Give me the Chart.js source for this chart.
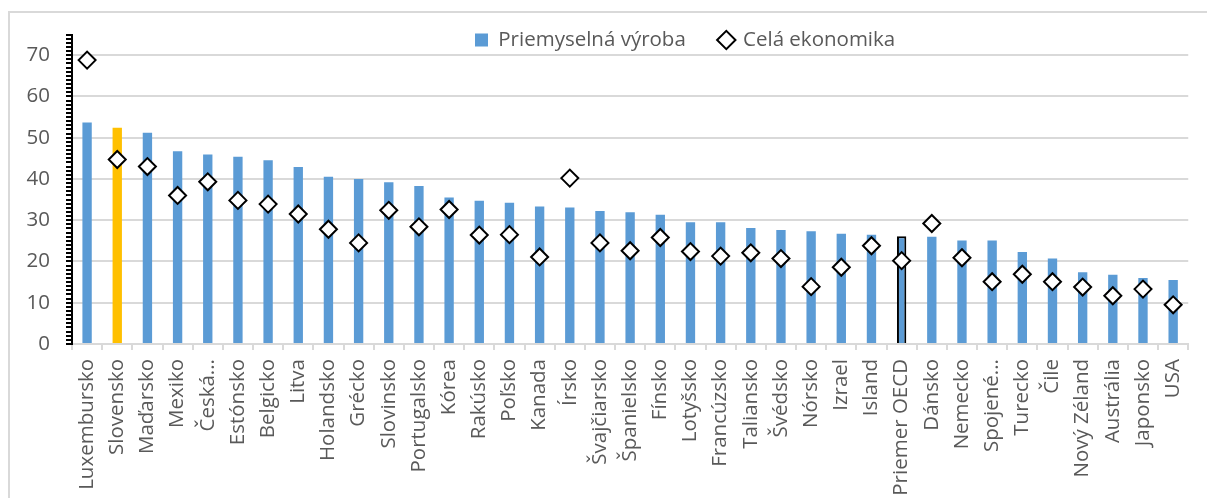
<!DOCTYPE html>
<html>
<head>
<meta charset="utf-8">
<script src="https://cdn.jsdelivr.net/npm/chart.js@4.4.1/dist/chart.umd.min.js"></script>
<style>
html,body{margin:0;padding:0;background:#fff;}
#wrap{position:relative;width:1207px;height:498px;overflow:hidden;}
#frame{position:absolute;left:8px;top:11px;right:-2px;bottom:-2px;border-top:2px solid #D9D9D9;border-left:2px solid #D9D9D9;}
#c{position:absolute;left:0;top:0;}
</style>
</head>
<body>
<div id="wrap"><div id="frame"></div><canvas id="c" width="1207" height="498"></canvas></div>
<script>
const categories = ["Luxembursko","Slovensko","Maďarsko","Mexiko","Česká...","Estónsko","Belgicko","Litva","Holandsko","Grécko","Slovinsko","Portugalsko","Kórea","Rakúsko","Poľsko","Kanada","Írsko","Švajčiarsko","Španielsko","Fínsko","Lotyšsko","Francúzsko","Taliansko","Švédsko","Nórsko","Izrael","Island","Priemer OECD","Dánsko","Nemecko","Spojené...","Turecko","Čile","Nový Zéland","Austrália","Japonsko","USA"];
const manufacturing = [53.7,52.4,51.2,46.7,45.9,45.4,44.5,42.9,40.5,40.0,39.2,38.3,35.5,34.7,34.2,33.3,33.1,32.2,31.9,31.3,29.5,29.5,28.1,27.6,27.3,26.7,26.5,26.1,26.0,25.1,25.1,22.3,20.7,17.4,16.8,16.0,15.5];
const wholeEconomy = [68.8,44.7,43.0,36.0,39.3,34.8,33.9,31.5,27.8,24.5,32.4,28.4,32.6,26.4,26.5,21.1,40.2,24.5,22.6,25.8,22.4,21.3,22.1,20.7,13.9,18.6,23.8,20.2,29.2,20.9,15.1,16.9,15.1,13.8,11.7,13.3,9.5];
const yTickLabels = [0,10,20,30,40,50,60,70];
const seriesNames = ["Priemyselná výroba","Celá ekonomika"];
const highlightCountry = "Slovensko";
const averageCategory = "Priemer OECD";

const BLUE = "#5B9BD5", GOLD = "#FFC000", GRID = "#D9D9D9", TEXT = "#595959";
const FONT = "'Open Sans', 'DejaVu Sans', sans-serif";
const FS = 20.5;

const legendPlacer = {
  id: 'legendPlacer',
  afterLayout(chart) {
    const l = chart.legend;
    if (!l || !l.lineWidths) return;
    const p = l.options.labels.padding;
    const fs = l.options.labels.font.size;
    const x0 = (l.left + p + l.right - l.lineWidths[0]) / 2;
    const dx = 475 - x0;
    const dy = 40 - (l.top + p + fs / 2);
    l.left += dx; l.right += dx; l.top += dy; l.bottom += dy;
  }
};

new Chart(document.getElementById('c'), {
  type: 'bar',
  data: {
    labels: categories,
    datasets: [
      {
        label: seriesNames[0],
        data: manufacturing,
        order: 1,
        backgroundColor: categories.map(c => c === highlightCountry ? GOLD : BLUE),
        borderColor: categories.map(c => c === averageCategory ? '#000000' : 'rgba(0,0,0,0)'),
        borderWidth: categories.map(c => c === averageCategory ? 2 : 0),
        pointStyle: 'rect',
        categoryPercentage: 1.0,
        barPercentage: 0.31
      },
      {
        label: seriesNames[1],
        type: 'line',
        data: wholeEconomy,
        order: 0,
        showLine: false,
        pointStyle: 'rectRot',
        pointRadius: 8.5,
        pointHoverRadius: 8.5,
        pointBorderWidth: 2,
        pointBorderColor: '#000000',
        pointBackgroundColor: '#FFFFFF',
        borderColor: '#000000',
        backgroundColor: '#FFFFFF'
      }
    ]
  },
  options: {
    responsive: false,
    animation: false,
    devicePixelRatio: 1,
    layout: { padding: { top: -30, right: 18, left: 0, bottom: 0 } },
    plugins: {
      tooltip: { enabled: false },
      legend: {
        position: 'top',
        align: 'center',
        labels: {
          usePointStyle: true,
          boxWidth: 13,
          boxHeight: 13,
          padding: 34,
          color: TEXT,
          font: { family: FONT, size: FS },
          sort: (a, b) => a.datasetIndex - b.datasetIndex
        }
      }
    },
    scales: {
      x: {
        afterFit(s) { s.height = 154; },
        ticks: {
          color: TEXT,
          font: { family: FONT, size: FS },
          minRotation: 90,
          maxRotation: 90,
          autoSkip: false,
          padding: 9
        },
        grid: { offset: true, drawOnChartArea: false, color: GRID, tickColor: GRID, tickLength: 6, lineWidth: 2 },
        border: { color: GRID, width: 2 }
      },
      y: {
        min: 0,
        max: 75,
        afterFit(s) { s.width = 72; },
        ticks: {
          stepSize: 1,
          autoSkip: false,
          color: TEXT,
          font: { family: FONT, size: FS },
          padding: 16,
          callback: (v) => yTickLabels.includes(v) ? String(v) : ''
        },
        grid: {
          color: (ctx) => (ctx.tick && yTickLabels.includes(ctx.tick.value)) ? GRID : 'rgba(0,0,0,0)',
          tickColor: '#000000',
          tickLength: 6,
          lineWidth: 2
        },
        border: { color: '#000000', width: 2 }
      }
    }
  },
  plugins: [legendPlacer]
});
</script>
</body>
</html>
